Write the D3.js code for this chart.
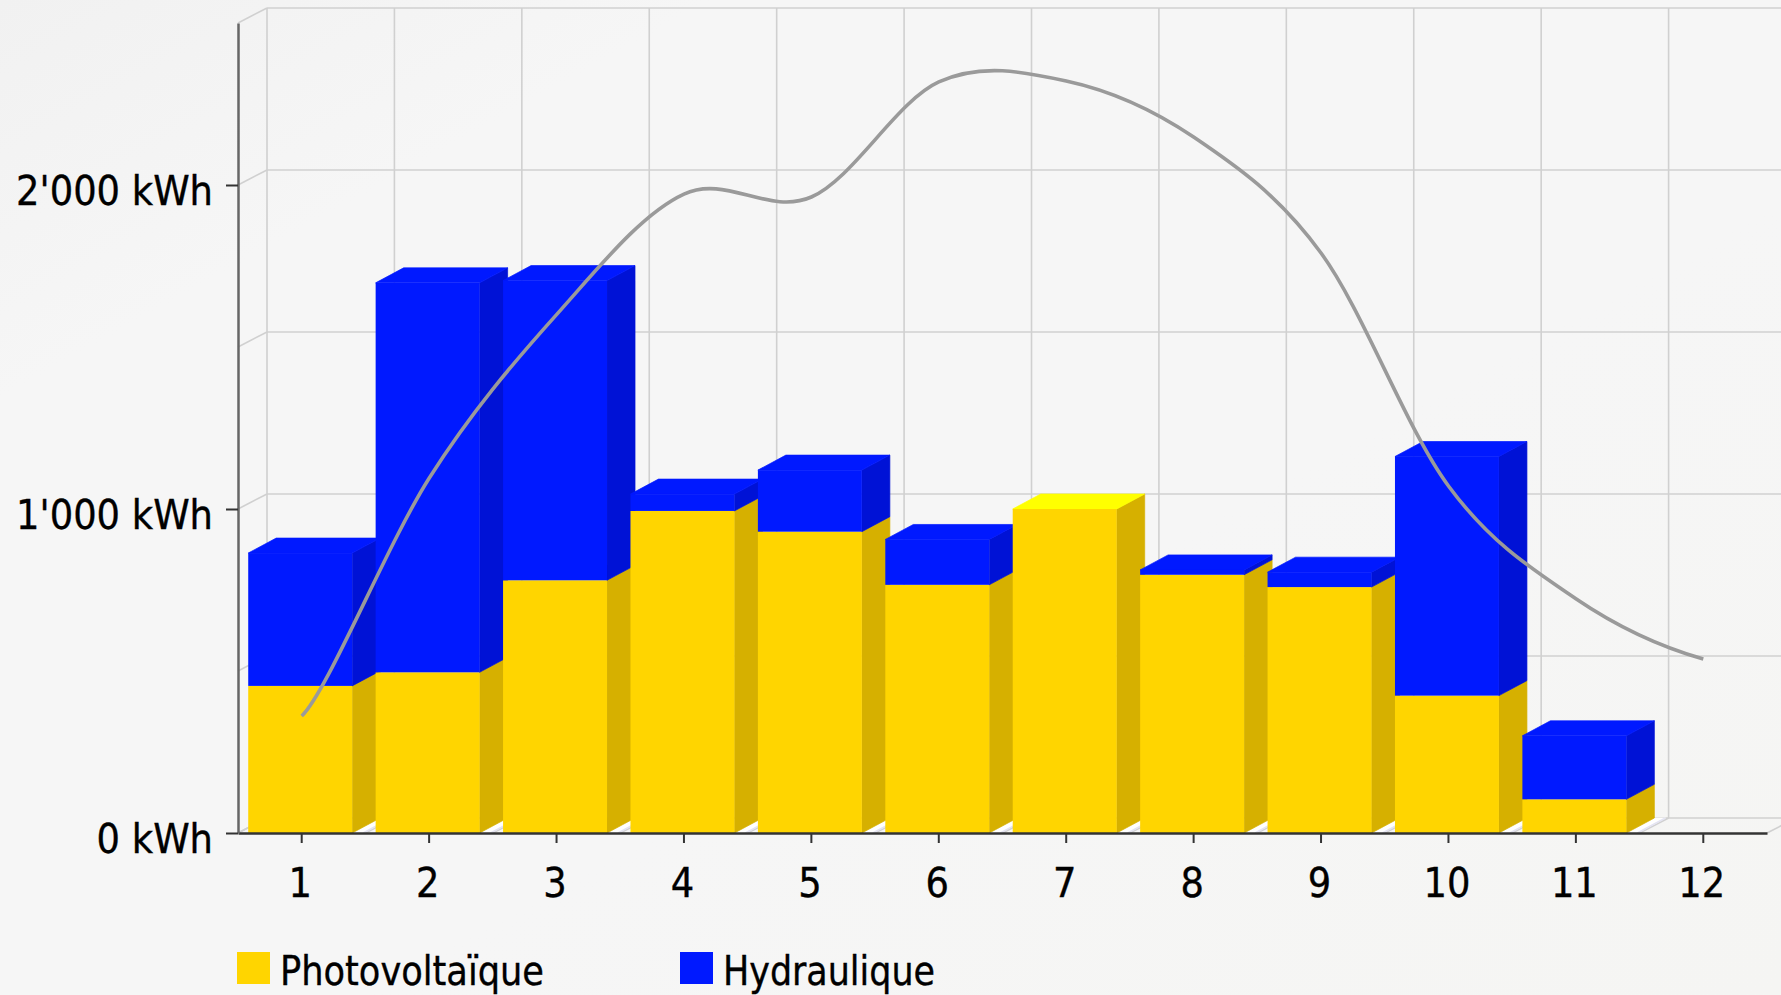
<!DOCTYPE html>
<html><head><meta charset="utf-8">
<script src="https://cdn.jsdelivr.net/npm/d3@7"></script>
<style>html,body{margin:0;padding:0;background:#f5f5f4;overflow:hidden}svg{display:block}
text{font-family:"DejaVu Sans Condensed","DejaVu Sans",sans-serif;font-stretch:condensed;fill:#000;stroke:#000;stroke-width:.35}</style>
</head><body><script>
const categories=["1","2","3","4","5","6","7","8","9","10","11","12"];
const photovoltaique=[454,496,780,994,930,766,1000,797,759,424,104,0];
const hydraulique=[410,1202,925,52,190,140,0,15,46,738,196,0];
const courbe=[361,1095,1600,1972,1963,2318,2321,2148,1790,1071,723,537];
const yLabelled=[0,1000,2000];
const yGrid=[0,500,1000,1500,2000,2500];
const seriesNames=["Photovoltaïque","Hydraulique"];

const W=1781,H=995,dx=29,dy=-15,barDepth=28,barShift=-1.5;
const x=d3.scaleBand().domain(categories).range([238,1767]).paddingInner(.184).paddingOuter(.092);
const y=d3.scaleLinear().domain([0,2500]).range([833,23]);
const cx=c=>x(c)+x.bandwidth()/2;
const svg=d3.select("body").append("svg").attr("width",W).attr("height",H);
const defs=svg.append("defs");
const g=defs.append("linearGradient").attr("id","bg").attr("x1",0).attr("y1",0).attr("x2",1).attr("y2",1);
[[0,"#f1f1f1"],[.2,"#f6f6f6"],[.6,"#f6f6f6"],[1,"#f5f5f3"]].forEach(s=>g.append("stop").attr("offset",s[0]).attr("stop-color",s[1]));
svg.append("rect").attr("width",W).attr("height",H).attr("fill","url(#bg)");

const grid="#d0d0d0";
const wall=svg.append("g").attr("fill","none").attr("stroke",grid).attr("stroke-width",1.6);
yGrid.forEach(v=>{
  wall.append("line").attr("x1",238+dx).attr("x2",W+40).attr("y1",y(v)+dy).attr("y2",y(v)+dy);
  wall.append("line").attr("x1",238).attr("x2",238+dx).attr("y1",y(v)).attr("y2",y(v)+dy);
});
d3.range(0,13).forEach(i=>{
  const fx=x.range()[0]+x.step()*i;
  wall.append("line").attr("x1",fx+dx).attr("x2",fx+dx).attr("y1",y(2500)+dy).attr("y2",y(0)+dy);
  wall.append("line").attr("x1",fx).attr("x2",fx+dx).attr("y1",y(0)).attr("y2",y(0)+dy);
});

const poly=(sel,pts,fill)=>sel.append("polygon").attr("points",pts.map(p=>p.join(",")).join(" ")).attr("fill",fill).attr("stroke",fill).attr("stroke-width",.7);
const bars=svg.append("g");
const C={pv:{front:"#ffd500",side:"#d6b000",top:"#ffff00"},hy:{front:"#0019ff",side:"#0012d6",top:"#0019ff"}};

categories.forEach((c,i)=>{
  const pv=photovoltaique[i],hy=hydraulique[i];
  if(pv+hy<=0) return;
  const x0=x(c)+barShift,x1=x0+x.bandwidth(),b=y(0);
  poly(bars,[[x1,b],[x1+barDepth,b+dy],[x1+barDepth+11,b+dy],[x1+11,b]],"#ffffff");
  bars.append("line").attr("x1",x1+11).attr("y1",b).attr("x2",x1+barDepth+11).attr("y2",b+dy).attr("stroke","#e4e4f2").attr("stroke-width",1.5);
  const seg=(v0,v1,col,top)=>{
    const a=y(v0),t=y(v1);
    poly(bars,[[x1,a],[x1+barDepth,a+dy],[x1+barDepth,t+dy],[x1,t]],col.side);
    if(top) poly(bars,[[x0,t],[x0+barDepth,t+dy],[x1+barDepth,t+dy],[x1,t]],col.top);
    bars.append("rect").attr("x",x0).attr("y",t).attr("width",x.bandwidth()).attr("height",a-t).attr("fill",col.front);
  };
  seg(0,pv,C.pv,hy===0);
  if(hy>0) seg(pv,pv+hy,C.hy,true);
});

// spline through the points, with gentler tangents at both ends
function softEnds(ctx){
  let P=[];
  return {areaStart(){},areaEnd(){},lineStart(){P=[]},point(a,b){P.push([a,b])},
    lineEnd(){
      const n=P.length,T=P.map((p,i)=>i===0?[(P[1][0]-p[0])*.6,(P[1][1]-p[1])*.3]
        :i===n-1?[(p[0]-P[i-1][0]),(p[1]-P[i-1][1])*.6]
        :[(P[i+1][0]-P[i-1][0])/2,(P[i+1][1]-P[i-1][1])/2]);
      ctx.moveTo(P[0][0],P[0][1]);
      for(let i=0;i<n-1;i++) ctx.bezierCurveTo(P[i][0]+T[i][0]/3,P[i][1]+T[i][1]/3,P[i+1][0]-T[i+1][0]/3,P[i+1][1]-T[i+1][1]/3,P[i+1][0],P[i+1][1]);
    }};
}
const line=d3.line().x((d,i)=>cx(categories[i])).y(d=>y(d)).curve(softEnds);
svg.append("path").attr("d",line(courbe)).attr("fill","none").attr("stroke","#9a9a9a").attr("stroke-width",3.6).attr("stroke-linejoin","round");

const xAxis=svg.append("g").attr("transform",`translate(0,${y(0)})`)
  .call(d3.axisBottom(x).tickSize(10).tickSizeOuter(0));
xAxis.select(".domain").attr("stroke","#333").attr("stroke-width",2.5);
xAxis.selectAll(".tick line").attr("stroke","#333").attr("stroke-width",2);
xAxis.selectAll("text").attr("x",-1.5).attr("y",64).attr("dy",0).attr("font-size",41).attr("fill","#000");

const yAxis=svg.append("g").attr("transform","translate(238,0)")
  .call(d3.axisLeft(y).tickValues(yLabelled).tickSize(12).tickSizeOuter(0)
    .tickFormat(v=>d3.format(",")(v).replace(/,/g,"'")+" kWh"));
yAxis.select(".domain").attr("stroke","#666").attr("stroke-width",2.5);
yAxis.selectAll(".tick line").attr("stroke","#333").attr("stroke-width",2);
yAxis.selectAll("text").attr("x",-25).attr("y",19).attr("dy",0).attr("font-size",41).attr("fill","#000");

const legendX=[237,680],legendColors=[C.pv.front,C.hy.front],legendWidth=[264,212];
seriesNames.forEach((n,i)=>{
  svg.append("rect").attr("x",legendX[i]).attr("y",952).attr("width",33).attr("height",32).attr("fill",legendColors[i]);
  svg.append("text").attr("x",legendX[i]+43).attr("y",985).attr("font-size",41)
    .attr("textLength",legendWidth[i]).attr("lengthAdjust","spacingAndGlyphs").text(n);
});
</script></body></html>
